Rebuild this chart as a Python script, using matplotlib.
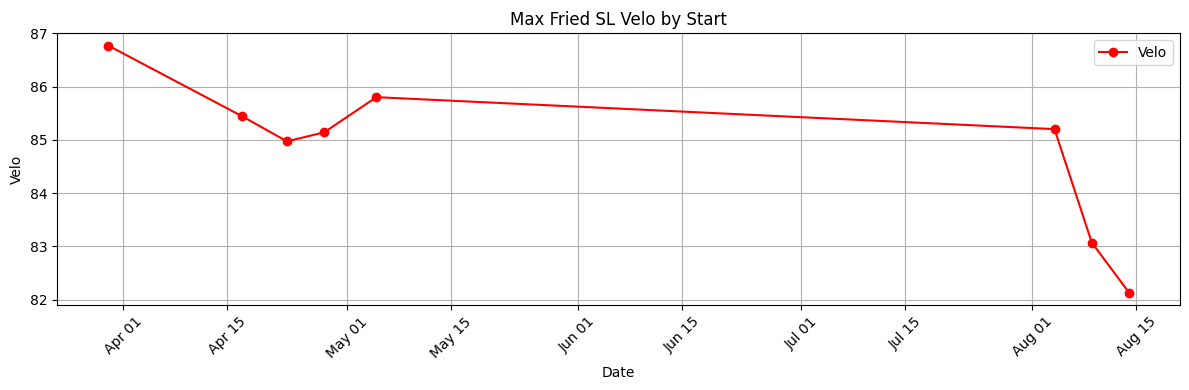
import pandas as pd
import matplotlib
matplotlib.use("Agg")
import matplotlib.pyplot as plt
import matplotlib.dates as mdates

dates = ["2024-03-30", "2024-04-17", "2024-04-23", "2024-04-28",
         "2024-05-05", "2024-08-04", "2024-08-09", "2024-08-14"]
velo = [86.77, 85.44, 84.97, 85.14, 85.80, 85.20, 83.07, 82.13]

df = pd.DataFrame({"Date": pd.to_datetime(dates), "Velo": velo})

fig, ax = plt.subplots(figsize=(11.89, 3.9), dpi=100)
ax.plot(df["Date"], df["Velo"], marker="o", color="red", label="Velo")

ax.set_title("Max Fried SL Velo by Start")
ax.set_xlabel("Date")
ax.set_ylabel("Velo")
ax.xaxis.set_major_locator(mdates.DayLocator(bymonthday=[1, 15]))
ax.xaxis.set_major_formatter(mdates.DateFormatter("%b %d"))
plt.setp(ax.get_xticklabels(), rotation=45)
ax.grid(True)
ax.legend()

fig.subplots_adjust(left=0.048, right=0.9925, top=0.915, bottom=0.218)
plt.savefig("out.png")
